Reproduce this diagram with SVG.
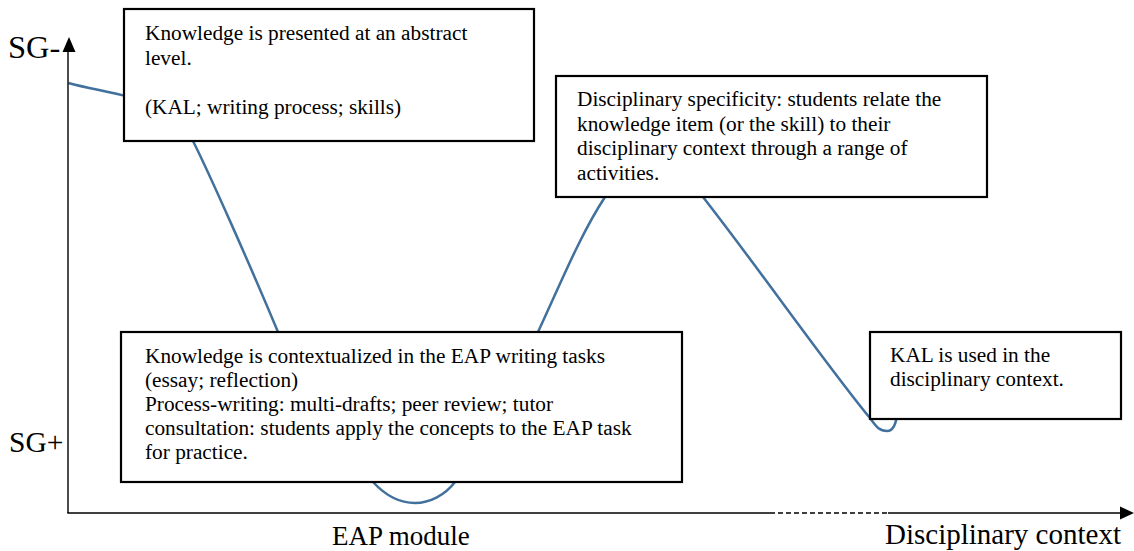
<svg xmlns="http://www.w3.org/2000/svg" width="1134" height="551" viewBox="0 0 1134 551">
<style>
.box{fill:#fff;stroke:#000;stroke-width:2.2}
.t{font-family:"Liberation Serif","Times New Roman",serif;font-size:21.3px;fill:#000}
.lbl{font-family:"Liberation Serif","Times New Roman",serif;fill:#000}
.axis{stroke:#000;stroke-width:1.4;fill:none}
.curve{fill:none;stroke:#41719C;stroke-width:2.5}
</style>
<rect width="1134" height="551" fill="#fff"/>
<g id="connectors">
<path class="curve" d="M68.5,83 C110,95 170,95 193,141 C210,175 250,265 278,332 C300,385 340,460 373,482 C385,495 400,503 415,503 C430,503 445,495 455,482 C480,450 515,380 538,332 C560,285 580,235 605,197 C625,165 680,165 703,197 C760,270 830,370 870,418 C877,428 880,431 887,431 C893,431 896,425 898,410"/>
</g>
<g id="axes">
<line class="axis" x1="68" y1="50" x2="68" y2="513"/>
<polygon points="69,37 62.5,52 75.5,52" fill="#000"/>
<line class="axis" x1="67.3" y1="513" x2="770" y2="513"/>
<line class="axis" x1="770" y1="513" x2="888" y2="513" stroke-dasharray="5,3"/>
<line class="axis" x1="888" y1="513" x2="1122" y2="513"/>
<polygon points="1134,513 1120,506.5 1120,519.5" fill="#000"/>
<text class="lbl" x="8" y="58" font-size="32.5">SG-</text>
<text class="lbl" x="9" y="452" font-size="29.5">SG+</text>
<text class="lbl" x="332" y="545" font-size="27">EAP module</text>
<text class="lbl" x="885" y="544" font-size="29">Disciplinary context</text>
</g>
<g id="box-abstract">
<rect class="box" x="124" y="9" width="410" height="132"/>
<text class="t" x="145" y="40">Knowledge is presented at an abstract</text>
<text class="t" x="145" y="65">level.</text>
<text class="t" x="145" y="114">(KAL; writing process; skills)</text>
</g>
<g id="box-specificity">
<rect class="box" x="556" y="76" width="431" height="121"/>
<text class="t" x="577" y="106">Disciplinary specificity: students relate the</text>
<text class="t" x="577" y="130.5">knowledge item (or the skill) to their</text>
<text class="t" x="577" y="155">disciplinary context through a range of</text>
<text class="t" x="577" y="179.5">activities.</text>
</g>
<g id="box-contextualized">
<rect class="box" x="121" y="332" width="561" height="150"/>
<text class="t" x="145" y="363">Knowledge is contextualized in the EAP writing tasks</text>
<text class="t" x="145" y="387">(essay; reflection)</text>
<text class="t" x="145" y="411">Process-writing: multi-drafts; peer review; tutor</text>
<text class="t" x="145" y="435">consultation: students apply the concepts to the EAP task</text>
<text class="t" x="145" y="459">for practice.</text>
</g>
<g id="box-kal">
<rect class="box" x="870" y="332" width="251" height="87"/>
<text class="t" x="890" y="362">KAL is used in the</text>
<text class="t" x="890" y="386">disciplinary context.</text>
</g>
</svg>
